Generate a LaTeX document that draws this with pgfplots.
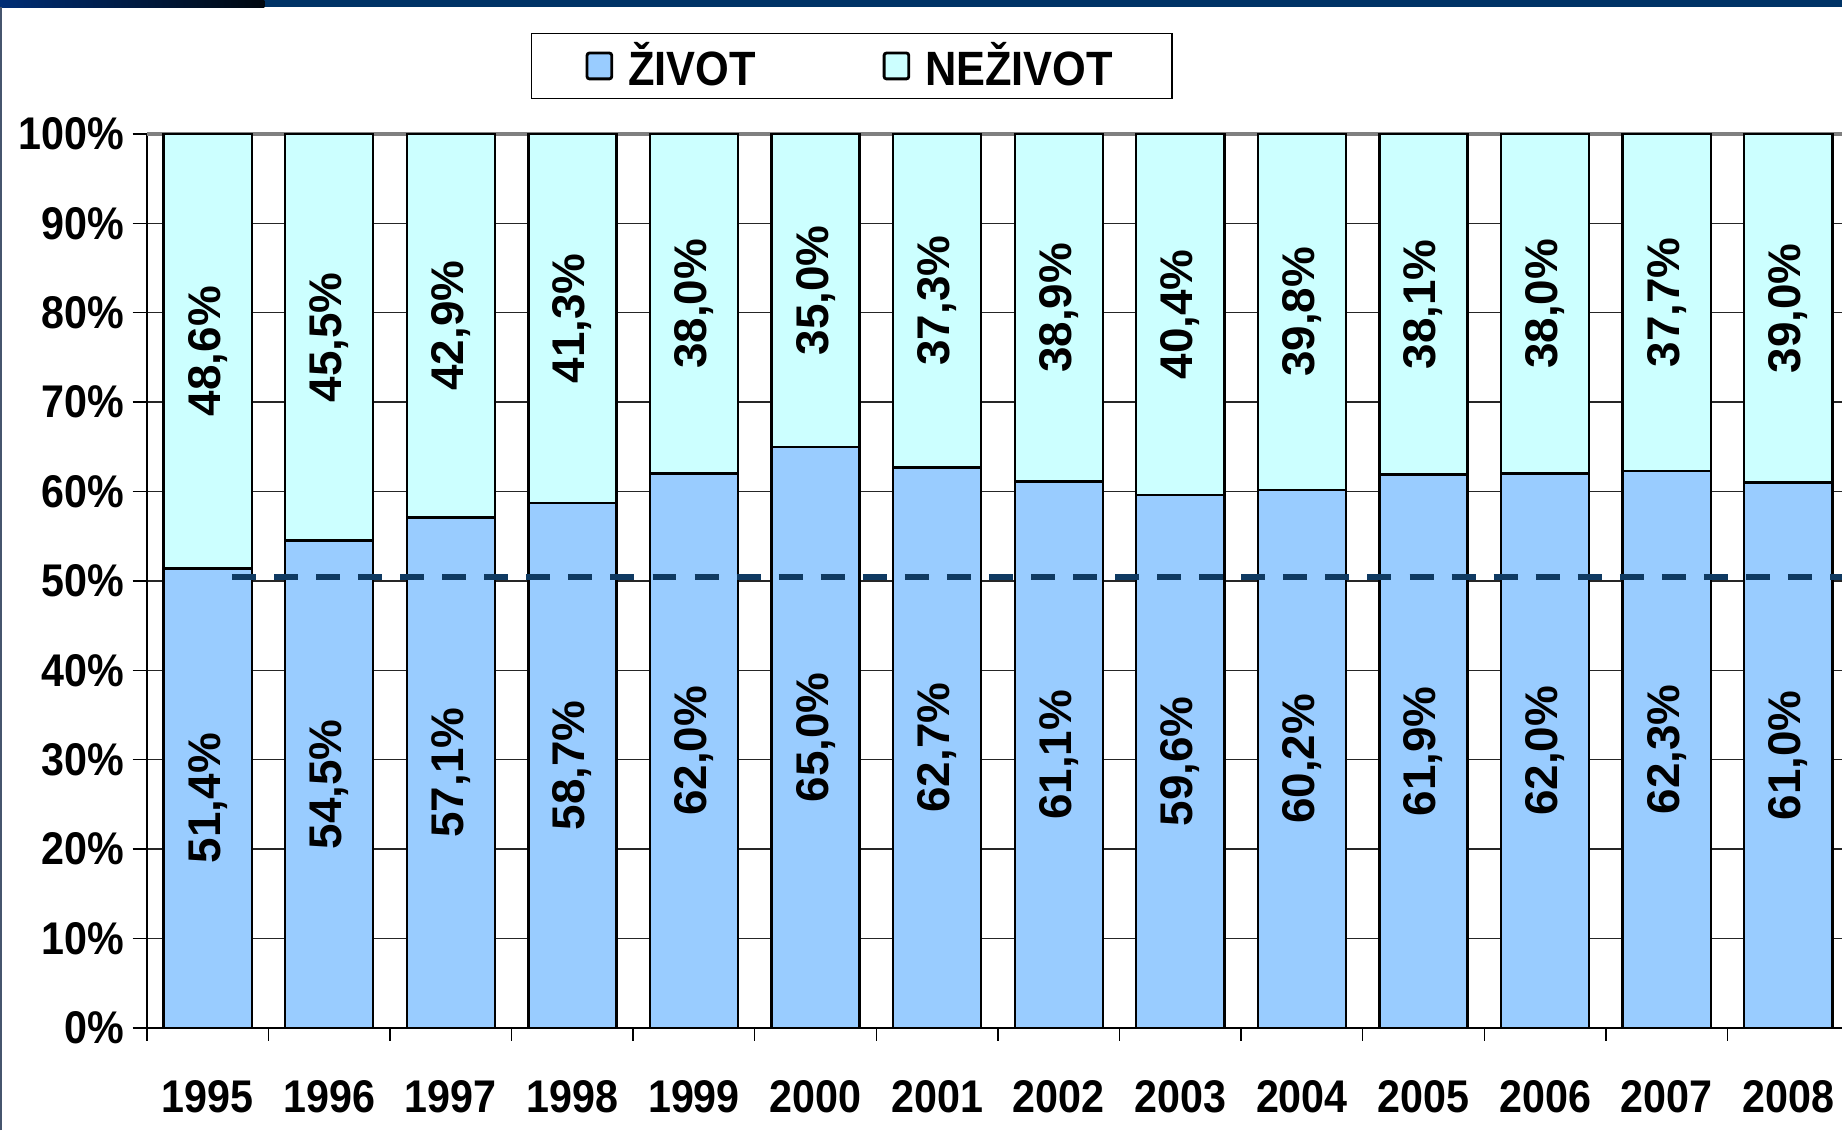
\documentclass[border=0pt]{standalone}
\usepackage{pgfplots}
\pgfplotsset{compat=1.18}
\usepackage{pgfplotstable}
\usepackage{fontspec}
\setmainfont{Liberation Sans}[FakeStretch=0.9]
\newfontfamily\valfont{Liberation Sans}
\definecolor{zivot}{HTML}{99CCFF}
\definecolor{nezivot}{HTML}{CCFFFF}
\definecolor{navy}{HTML}{003366}
\definecolor{dashc}{HTML}{0F3A62}
\newcommand\lblfont{\bfseries\fontsize{19.5}{21}\selectfont}
\newcommand\legfont{\bfseries\fontsize{20.5}{22}\selectfont}
\newcommand\vfont{\valfont\bfseries\fontsize{19.5}{21}\selectfont}

\pgfplotstableread{
x z n
0 51.4 48.6
1 54.5 45.5
2 57.1 42.9
3 58.7 41.3
4 62.0 38.0
5 65.0 35.0
6 62.7 37.3
7 61.1 38.9
8 59.6 40.4
9 60.2 39.8
10 61.9 38.1
11 62.0 38.0
12 62.3 37.7
13 61.0 39.0
}\datatable

\pgfplotsset{
  common/.style={
    width=724.5pt, height=380.5pt, scale only axis,
    xmin=-0.5, xmax=13.5, ymin=0, ymax=100,
  },
  /pgf/number format/assume math mode=true,
  vallabels/.style={
    nodes near coords={\pgfmathprintnumber[fixed, fixed zerofill, precision=1, use comma]{\pgfplotspointmeta}\%},
    nodes near coords style={anchor=center, rotate=90, font=\vfont, inner sep=0pt},
  },
}

\begin{document}
\begin{tikzpicture}
\useasboundingbox (-62.5pt,-43.5pt) rectangle (721.5pt,437.5pt);
\begin{axis}[common,
  ybar stacked, bar width=37.5pt,
  axis lines*=left,
  axis line style={black, line width=0.9pt},
  tick align=outside,
  ytick={0,10,...,90},
  extra y ticks={100},
  extra y tick style={grid style={gray, line width=1.6pt}},
  ymajorgrids,
  grid style={black!85, line width=0.6pt},
  yticklabel={\pgfmathprintnumber{\tick}\%},
  y tick style={black, line width=0.6pt},
  major tick length=6pt,
  xtick={0,...,13},
  xticklabels={1995,1996,1997,1998,1999,2000,2001,2002,2003,2004,2005,2006,2007,2008},
  major x tick style={draw=none},
  minor xtick={-0.5,0.5,...,13.5},
  minor x tick style={black, line width=0.6pt},
  minor tick length=5.5pt,
  tick label style={font=\lblfont},
  xticklabel style={yshift=-13pt},
  legend columns=2,
  legend style={at={(0.4141,1.076)}, anchor=center, draw=black, line width=0.6pt,
    inner xsep=23pt, inner ysep=2pt, font=\legfont,
    /tikz/every even column/.append style={column sep=52pt}},
]
\addplot[fill=zivot, draw=black, line width=1pt,
  legend image code/.code={\draw[fill=zivot, draw=black, line width=1.2pt, rounded corners=1pt] (0pt,-5.5pt) rectangle (10.5pt,5.5pt); \path (15pt,0pt);}]
  table[x=x, y=z]{\datatable};
\addlegendentry{ŽIVOT}
\addplot[fill=nezivot, draw=black, line width=1pt,
  legend image code/.code={\draw[fill=nezivot, draw=black, line width=1.2pt, rounded corners=1pt] (0pt,-5.5pt) rectangle (10.5pt,5.5pt); \path (15pt,0pt);}]
  table[x=x, y=n]{\datatable};
\addlegendentry{NEŽIVOT}
\end{axis}
\begin{axis}[common, hide axis]
\addplot[dashc, line width=2.6pt, dash pattern=on 10.2pt off 7.7pt, mark=none]
  coordinates {(0.2,50.4) (13.6,50.4)};
\addplot[draw=none, mark=none, point meta=explicit, vallabels]
  table[x=x, y expr=\thisrow{z}/2, meta=z]{\datatable};
\addplot[draw=none, mark=none, point meta=explicit, vallabels]
  table[x=x, y expr=\thisrow{z}+\thisrow{n}/2, meta=n]{\datatable};
\end{axis}
\fill[navy] (-62.5pt,434.5pt) rectangle (721.5pt,437.5pt);
\shade[left color=navy!90!blue, right color=black!85!navy] (-62.5pt,434.5pt) rectangle (50pt,437.5pt);
\draw[color={rgb,255:red,70;green,85;blue,110}, line width=0.8pt] (-62.1pt,-43.5pt) -- (-62.1pt,434.5pt);
\end{tikzpicture}
\end{document}
